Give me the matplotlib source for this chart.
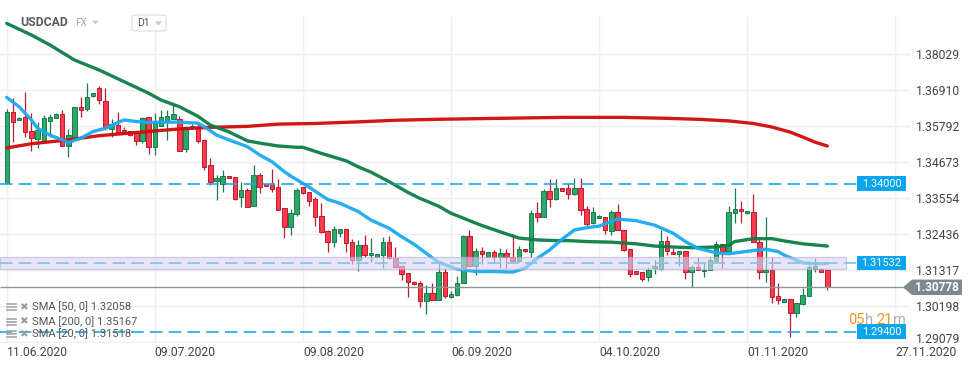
import numpy as np
import matplotlib.pyplot as plt
from matplotlib.patches import Rectangle, Polygon, FancyBboxPatch
from matplotlib.transforms import blended_transform_factory, ScaledTranslation

plt.rcParams['font.family'] = ['Roboto', 'DejaVu Sans']
plt.rcParams['lines.scale_dashes'] = False

W, H = 974, 368

# USDCAD daily candles
opens = [1.3402, 1.3622, 1.3599, 1.3606, 1.3564, 1.3540, 1.3531, 1.3596, 1.3605, 1.3616,
         1.3518, 1.3543, 1.3637, 1.3633, 1.3673, 1.3696, 1.3656, 1.3569, 1.3582, 1.3566,
         1.3563, 1.3557, 1.3534, 1.3606, 1.3515, 1.3578, 1.3591, 1.3601, 1.3600, 1.3507,
         1.3575, 1.3575, 1.3536, 1.3458, 1.3409, 1.3399, 1.3424, 1.3420, 1.3357, 1.3380,
         1.3331, 1.3427, 1.3399, 1.3399, 1.3391, 1.3324, 1.3264, 1.3306, 1.3388, 1.3373,
         1.3351, 1.3299, 1.3253, 1.3218, 1.3246, 1.3258, 1.3218, 1.3163, 1.3209, 1.3178,
         1.3172, 1.3178, 1.3218, 1.3170, 1.3145, 1.3121, 1.3095, 1.3090, 1.3036, 1.3059,
         1.3038, 1.3124, 1.3047, 1.3054, 1.3090, 1.3238, 1.3144, 1.3191, 1.3173, 1.3187,
         1.3171, 1.3184, 1.3173, 1.3158, 1.3196, 1.3187, 1.3308, 1.3297, 1.3378, 1.3351,
         1.3385, 1.3385, 1.3367, 1.3385, 1.3320, 1.3277, 1.3293, 1.3295, 1.3252, 1.3311,
         1.3256, 1.3197, 1.3128, 1.3124, 1.3109, 1.3137, 1.3134, 1.3222, 1.3187, 1.3181,
         1.3191, 1.3124, 1.3140, 1.3129, 1.3132, 1.3158, 1.3212, 1.3192, 1.3308, 1.3320,
         1.3308, 1.3313, 1.3220, 1.3124, 1.3132, 1.3052, 1.3033, 1.3040, 1.2999, 1.3025,
         1.3052, 1.3136, 1.3136, 1.3132]
highs = [1.3632, 1.3665, 1.3607, 1.3684, 1.3621, 1.3591, 1.3613, 1.3616, 1.3618, 1.3629,
         1.3569, 1.3638, 1.3668, 1.3712, 1.3683, 1.3703, 1.3696, 1.3600, 1.3622, 1.3577,
         1.3564, 1.3558, 1.3607, 1.3607, 1.3619, 1.3629, 1.3629, 1.3644, 1.3610, 1.3579,
         1.3586, 1.3586, 1.3539, 1.3479, 1.3427, 1.3442, 1.3425, 1.3421, 1.3406, 1.3387,
         1.3458, 1.3434, 1.3400, 1.3446, 1.3415, 1.3325, 1.3320, 1.3386, 1.3391, 1.3374,
         1.3359, 1.3341, 1.3256, 1.3268, 1.3259, 1.3259, 1.3227, 1.3225, 1.3241, 1.3230,
         1.3182, 1.3234, 1.3237, 1.3202, 1.3147, 1.3122, 1.3096, 1.3098, 1.3085, 1.3090,
         1.3154, 1.3137, 1.3066, 1.3113, 1.3240, 1.3256, 1.3199, 1.3204, 1.3188, 1.3194,
         1.3199, 1.3196, 1.3243, 1.3206, 1.3197, 1.3318, 1.3343, 1.3382, 1.3413, 1.3413,
         1.3386, 1.3401, 1.3417, 1.3417, 1.3330, 1.3327, 1.3301, 1.3297, 1.3318, 1.3337,
         1.3257, 1.3198, 1.3129, 1.3125, 1.3140, 1.3163, 1.3256, 1.3237, 1.3201, 1.3192,
         1.3192, 1.3147, 1.3172, 1.3153, 1.3171, 1.3223, 1.3213, 1.3329, 1.3386, 1.3347,
         1.3315, 1.3368, 1.3230, 1.3295, 1.3173, 1.3092, 1.3041, 1.3041, 1.3029, 1.3075,
         1.3147, 1.3168, 1.3137, 1.3132]
lows = [1.3402, 1.3528, 1.3598, 1.3546, 1.3502, 1.3512, 1.3531, 1.3546, 1.3604, 1.3518,
        1.3483, 1.3543, 1.3608, 1.3627, 1.3670, 1.3647, 1.3567, 1.3546, 1.3557, 1.3555,
        1.3549, 1.3520, 1.3526, 1.3491, 1.3489, 1.3578, 1.3536, 1.3601, 1.3502, 1.3499,
        1.3574, 1.3526, 1.3442, 1.3396, 1.3349, 1.3375, 1.3416, 1.3349, 1.3328, 1.3327,
        1.3330, 1.3372, 1.3392, 1.3373, 1.3319, 1.3232, 1.3240, 1.3300, 1.3368, 1.3331,
        1.3268, 1.3248, 1.3189, 1.3204, 1.3235, 1.3189, 1.3150, 1.3130, 1.3172, 1.3155,
        1.3171, 1.3137, 1.3166, 1.3141, 1.3100, 1.3047, 1.3086, 1.3017, 1.2994, 1.3037,
        1.3037, 1.3044, 1.3046, 1.3052, 1.3090, 1.3144, 1.3116, 1.3150, 1.3172, 1.3152,
        1.3137, 1.3137, 1.3157, 1.3157, 1.3189, 1.3173, 1.3282, 1.3296, 1.3328, 1.3350,
        1.3377, 1.3352, 1.3366, 1.3303, 1.3268, 1.3276, 1.3292, 1.3244, 1.3241, 1.3255,
        1.3190, 1.3111, 1.3119, 1.3098, 1.3098, 1.3120, 1.3133, 1.3179, 1.3180, 1.3144,
        1.3103, 1.3080, 1.3131, 1.3111, 1.3131, 1.3157, 1.3137, 1.3191, 1.3277, 1.3279,
        1.3307, 1.3219, 1.3105, 1.3095, 1.3028, 1.3025, 1.3032, 1.2924, 1.2984, 1.3024,
        1.3051, 1.3124, 1.3125, 1.3068]
closes = [1.3623, 1.3591, 1.3605, 1.3560, 1.3541, 1.3566, 1.3603, 1.3606, 1.3616, 1.3518,
          1.3551, 1.3637, 1.3630, 1.3668, 1.3681, 1.3659, 1.3575, 1.3585, 1.3562, 1.3557,
          1.3551, 1.3534, 1.3605, 1.3513, 1.3593, 1.3606, 1.3610, 1.3616, 1.3502, 1.3577,
          1.3577, 1.3531, 1.3453, 1.3406, 1.3418, 1.3424, 1.3417, 1.3352, 1.3380, 1.3328,
          1.3427, 1.3389, 1.3393, 1.3382, 1.3319, 1.3264, 1.3308, 1.3380, 1.3370, 1.3347,
          1.3295, 1.3249, 1.3218, 1.3258, 1.3258, 1.3217, 1.3163, 1.3209, 1.3179, 1.3184,
          1.3181, 1.3218, 1.3168, 1.3142, 1.3118, 1.3095, 1.3087, 1.3036, 1.3059, 1.3038,
          1.3124, 1.3052, 1.3057, 1.3092, 1.3238, 1.3144, 1.3191, 1.3181, 1.3187, 1.3173,
          1.3184, 1.3171, 1.3158, 1.3196, 1.3190, 1.3308, 1.3297, 1.3378, 1.3351, 1.3385,
          1.3378, 1.3367, 1.3385, 1.3318, 1.3275, 1.3311, 1.3300, 1.3256, 1.3311, 1.3256,
          1.3194, 1.3120, 1.3120, 1.3105, 1.3132, 1.3144, 1.3222, 1.3191, 1.3181, 1.3191,
          1.3124, 1.3140, 1.3132, 1.3132, 1.3163, 1.3212, 1.3192, 1.3313, 1.3320, 1.3314,
          1.3314, 1.3220, 1.3126, 1.3132, 1.3049, 1.3038, 1.3040, 1.2999, 1.3028, 1.3054,
          1.3140, 1.3144, 1.3126, 1.3078]

# moving averages, sampled along the chart (candle index -> value)
sma20_idx = [0, 2, 4, 5, 7, 9, 10, 12, 14, 16, 18, 19, 21, 23, 25, 28, 31, 32, 34, 36,
             39, 41, 43, 45, 46, 49, 52, 54, 57, 59, 62, 64, 66, 69, 70, 73, 76, 79, 82, 84,
             86, 88, 90, 92, 94, 96, 99, 102, 105, 108, 110, 112, 115, 117, 121, 123, 125, 126, 129, 131,
             133]
sma20_val = [1.3668, 1.3639, 1.3598, 1.3572, 1.3551, 1.3536, 1.3528, 1.3541, 1.3562, 1.3572,
             1.3590, 1.3598, 1.3593, 1.3590, 1.3591, 1.3591, 1.3588, 1.3577, 1.3551, 1.3536,
             1.3515, 1.3489, 1.3468, 1.3437, 1.3424, 1.3389, 1.3351, 1.3339, 1.3313, 1.3287,
             1.3261, 1.3235, 1.3212, 1.3169, 1.3156, 1.3134, 1.3127, 1.3127, 1.3125, 1.3137,
             1.3168, 1.3194, 1.3227, 1.3256, 1.3263, 1.3268, 1.3290, 1.3285, 1.3271, 1.3246,
             1.3220, 1.3199, 1.3185, 1.3182, 1.3192, 1.3196, 1.3189, 1.3178, 1.3154, 1.3151,
             1.3152]
sma50_idx = [0, 4, 7, 11, 15, 19, 23, 25, 28, 31, 33, 36, 39, 41, 44, 47, 48, 51, 55, 57,
             59, 62, 65, 67, 70, 72, 75, 77, 80, 83, 86, 89, 91, 94, 98, 102, 105, 108, 111, 115,
             117, 118, 121, 124, 126, 129, 133]
sma50_val = [1.3898, 1.3862, 1.3831, 1.3784, 1.3753, 1.3717, 1.3681, 1.3660, 1.3639, 1.3609,
             1.3582, 1.3561, 1.3533, 1.3526, 1.3517, 1.3513, 1.3513, 1.3494, 1.3471, 1.3452,
             1.3436, 1.3406, 1.3373, 1.3354, 1.3330, 1.3308, 1.3285, 1.3270, 1.3250, 1.3231,
             1.3225, 1.3223, 1.3223, 1.3220, 1.3218, 1.3213, 1.3206, 1.3203, 1.3201, 1.3203,
             1.3208, 1.3220, 1.3229, 1.3229, 1.3222, 1.3213, 1.3206]
sma200_idx = [0, 4, 10, 15, 21, 28, 33, 39, 44, 50, 57, 63, 70, 80, 90, 100, 107, 112, 117, 121,
              124, 127, 129, 131, 133]
sma200_val = [1.3511, 1.3524, 1.3536, 1.3549, 1.3559, 1.3570, 1.3575, 1.3578, 1.3585, 1.3587,
              1.3592, 1.3597, 1.3600, 1.3603, 1.3606, 1.3606, 1.3603, 1.3600, 1.3595, 1.3587,
              1.3576, 1.3560, 1.3545, 1.3529, 1.3517]

levels = [1.34000, 1.31532, 1.29400]
band = (1.3134, 1.3172)
last_price = 1.30778

yticks = [1.29079, 1.30198, 1.31317, 1.32436, 1.33554, 1.34673, 1.35792, 1.36910, 1.38029]
xticks = [0, 24, 48, 72, 96, 120, 144]
xlabels = ['11.06.2020', '09.07.2020', '09.08.2020', '06.09.2020',
           '04.10.2020', '01.11.2020', '27.11.2020']

legend_rows = ['SMA [50, 0] 1.32058', 'SMA [200, 0] 1.35167', 'SMA [20, 0] 1.31518']

GREEN, GREEN_EDGE = '#2aa96b', '#1b7a4b'
RED, RED_EDGE = '#fb3a4d', '#bf1a2e'


def fx(p):
    return p / W


def fy(p):
    return 1 - p / H


fig = plt.figure(figsize=(W / 100, H / 100), dpi=100)
ax = fig.add_axes([0, fy(343), fx(910), (343 - 17) / H])
ax.set_xlim(-1.09, 146.4)
ax.set_ylim(1.29047, 1.39179)
for s in ax.spines.values():
    s.set_visible(False)

ax.set_yticks(yticks)
ax.set_yticklabels([f'{v:.5f}' for v in yticks])
ax.yaxis.tick_right()
ax.set_xticks(xticks)
ax.set_xticklabels(xlabels)
ax.tick_params(axis='y', length=0, pad=4, labelsize=8.7, labelcolor='#444444')
ax.tick_params(axis='x', length=0, pad=2, labelsize=8.7, labelcolor='#444444')
for lbl in ax.get_xticklabels():
    lbl.set_ha('left')
lab0 = ax.get_yticklabels()[0]
lab0.set_transform(lab0.get_transform() + ScaledTranslation(0, 3 / 72, fig.dpi_scale_trans))
ax.grid(color='#efefef', lw=1, zorder=0)
ax.set_axisbelow(True)

# candles
o = np.array(opens)
h = np.array(highs)
l = np.array(lows)
c = np.array(closes)
x = np.arange(len(o))
up = c >= o
lo = np.minimum(o, c)
hgt = np.maximum(np.abs(c - o), 0.0004)
for m, fc, ec in [(up, GREEN, GREEN_EDGE), (~up, RED, RED_EDGE)]:
    ax.vlines(x[m], l[m], h[m], color=ec, lw=0.9, zorder=2)
    ax.bar(x[m], hgt[m], bottom=lo[m], width=0.72, color=fc, edgecolor=ec, lw=0.7, zorder=3)

# moving averages
ax.plot(sma200_idx, sma200_val, color='#d10a0a', lw=2.4, alpha=0.95, zorder=4, solid_capstyle='round')
ax.plot(sma50_idx, sma50_val, color='#0b7d45', lw=2.4, alpha=0.95, zorder=4, solid_capstyle='round')
ax.plot(sma20_idx, sma20_val, color='#1aaaf0', lw=2.4, alpha=0.95, zorder=4, solid_capstyle='round')

# zone
ax.add_patch(Rectangle((-1.09, band[0]), 137.1, band[1] - band[0], facecolor='#dcd5f0',
                       alpha=0.6, edgecolor='#b7add8', lw=1, zorder=5))

# horizontal levels
lvl_colors = ['#1ea7ee', '#7cc3ef', '#1ea7ee']
for lv, col in zip(levels, lvl_colors):
    ax.hlines(lv, -1.09, 137.8, color=col, lw=1.2, linestyles=(0, (9, 4.5)), zorder=6)
ax.hlines(last_price, -1.09, 145.3, color='#8a969b', lw=1, zorder=6)

trans = blended_transform_factory(fig.transFigure, ax.transData)

# countdown to candle close (drawn under the level boxes)
for txt, px, col in [('05', 848, '#f7931e'), ('h', 864.5, '#b0b0b0'),
                     ('21', 876.5, '#f7931e'), ('m', 893, '#b0b0b0')]:
    fig.text(fx(px), fy(319.5), txt, color=col, fontsize=10.5, ha='left', va='center', zorder=1)

bh = 0.0045
for lv in levels:
    ax.add_patch(Rectangle((fx(857), lv - bh / 2), fx(49), bh, transform=trans,
                           facecolor='#0aa5ec', edgecolor='none', clip_on=False, zorder=7))
    ax.text(fx(881.5), lv, f'{lv:.5f}', transform=trans, color='white', fontsize=7.8,
            ha='center', va='center', clip_on=False, zorder=8)

ah = 0.0024
ax.add_patch(Polygon([(fx(903), last_price), (fx(912), last_price + ah), (fx(962), last_price + ah),
                      (fx(962), last_price - ah), (fx(912), last_price - ah)], closed=True,
                     transform=trans, facecolor='#7d898e', edgecolor='none', clip_on=False, zorder=7))
ax.text(fx(937), last_price, f'{last_price:.5f}', transform=trans, color='white', fontsize=8.5,
        fontweight='bold', ha='center', va='center', clip_on=False, zorder=8)

# legend rows (bottom left)
for i, t in enumerate(legend_rows):
    yy = [307, 321.5, 334][i]
    for dy in (-3, 0, 3):
        fig.add_artist(plt.Line2D([fx(7), fx(16)], [fy(yy + dy), fy(yy + dy)], color='#a5a5a5', lw=1.2))
    fig.text(fx(19.5), fy(yy), '\u2716', color='#9c9c9c', fontsize=7.5, ha='left', va='center')
    fig.text(fx(32), fy(yy), t, color='#555555', fontsize=8, ha='left', va='center')

# header
fig.text(fx(20), fy(23), 'USDCAD', color='#565d64', fontsize=8.8, fontweight='bold', ha='left', va='center')
fig.text(fx(75), fy(23.5), 'FX', color='#9aa3ab', fontsize=7.2, ha='left', va='center')
fig.add_artist(Polygon([(fx(92), fy(20.5)), (fx(99), fy(20.5)), (fx(95.5), fy(24.5))],
                       closed=True, transform=fig.transFigure, facecolor='#c9cdd1', edgecolor='none'))
fig.add_artist(FancyBboxPatch((fx(132), fy(31)), fx(34), 16 / H, boxstyle='round,pad=0,rounding_size=0.004',
                              transform=fig.transFigure, facecolor='white', edgecolor='#dcdcdc', lw=0.8))
fig.text(fx(137), fy(23.5), 'D1', color='#555555', fontsize=7.5, ha='left', va='center')
fig.add_artist(Polygon([(fx(155), fy(21.5)), (fx(162), fy(21.5)), (fx(158.5), fy(25.5))],
                       closed=True, transform=fig.transFigure, facecolor='#c9c9c9', edgecolor='none'))

fig.savefig('out.png', dpi=100, facecolor='white')
